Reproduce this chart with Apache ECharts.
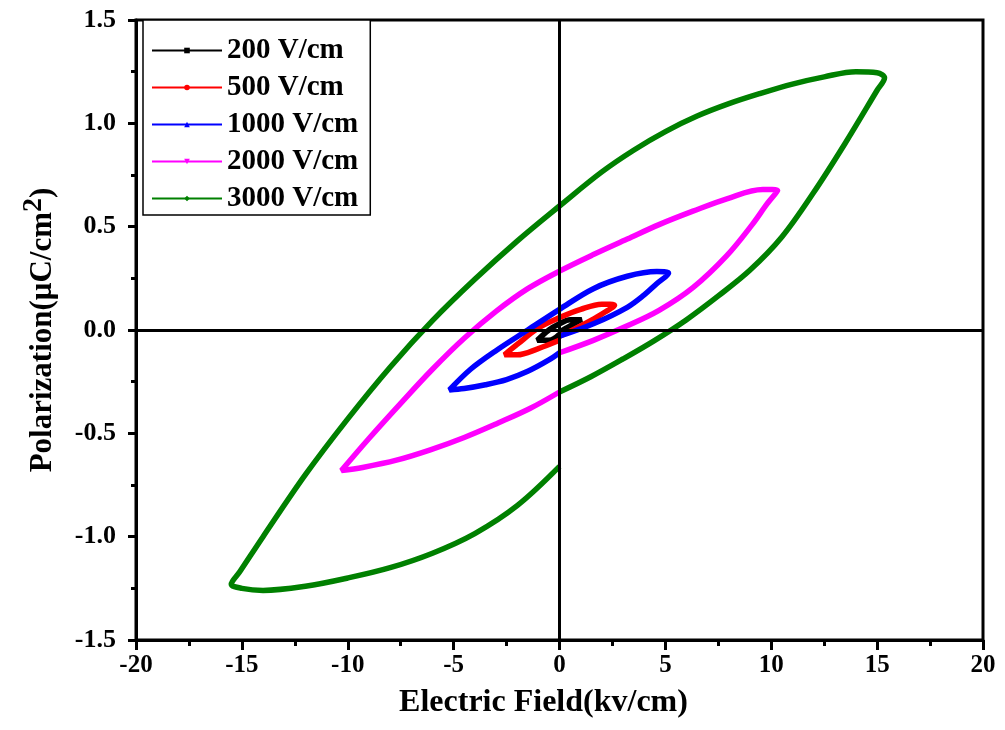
<!DOCTYPE html>
<html>
<head>
<meta charset="utf-8">
<script src="https://cdn.jsdelivr.net/npm/echarts@6/dist/echarts.min.js"></script>
<style>
html,body{margin:0;padding:0;background:#fff;}
#chart{width:1005px;height:730px;}
</style>
</head>
<body>
<div id="chart"></div>
<script>
// ---- data (E in kV/cm, P in uC/cm^2) ----
const seriesNames = ['200 V/cm', '500 V/cm', '1000 V/cm', '2000 V/cm', '3000 V/cm'];
const seriesColors = ['#000000', '#ff0000', '#0000ff', '#ff00ff', '#008000'];
const seriesSymbols = ['rect', 'circle', 'triangle', 'path://M0,0 L10,0 L5,9 Z', 'diamond'];

const loop200 = [[0,-0.01],[0.5,0.02],[1.05,0.05],[0.5,0.05],[0,0.03],[-0.5,0.0],[-1.05,-0.05],[-0.5,-0.05],[0,-0.02]];
const loop500 = [[0,-0.03],[1.0,0.02],[1.8,0.065],[2.6,0.12],[2.0,0.125],[1.0,0.1],[0,0.06],[-1.0,0.01],[-2.0,-0.07],[-2.6,-0.12],[-2.0,-0.12],[-1.0,-0.09],[0,-0.05]];
const loop1000 = [[0,-0.03],[1.6,0.03],[3.2,0.11],[4.0,0.17],[4.6,0.225],[5.15,0.275],[4.6,0.283],[3.2,0.26],[1.6,0.2],[0,0.1],[-1.5,0.0],[-3.0,-0.1],[-4.2,-0.19],[-5.2,-0.29],[-4.5,-0.283],[-3.5,-0.265],[-2.5,-0.24],[-1.5,-0.2],[-0.5,-0.145],[0,-0.11]];
const loop2000 = [[0,-0.11],[1.6,-0.05],[3.2,0.02],[4.7,0.095],[6.3,0.205],[7.9,0.36],[9.1,0.51],[9.8,0.61],[10.3,0.675],[9.6,0.68],[7.9,0.635],[6.3,0.575],[4.7,0.51],[3.2,0.44],[1.6,0.365],[0,0.285],[-1.5,0.2],[-3.0,0.09],[-4.5,-0.04],[-6.0,-0.19],[-7.5,-0.355],[-9.0,-0.525],[-10.3,-0.68],[-9.3,-0.665],[-7.7,-0.63],[-6.1,-0.58],[-4.5,-0.52],[-2.9,-0.45],[-1.4,-0.38],[0,-0.3]];
const loop3000 = [[0,-0.3],[1.5,-0.225],[3.0,-0.14],[4.5,-0.05],[6.0,0.05],[7.5,0.165],[9.0,0.29],[10.5,0.45],[12.0,0.665],[13.5,0.905],[15.0,1.16],[15.35,1.22],[15.0,1.245],[14.0,1.25],[12.5,1.225],[11.0,1.19],[9.5,1.145],[8.0,1.095],[6.5,1.035],[5.0,0.96],[3.5,0.87],[2.0,0.765],[0,0.6],[-2.0,0.43],[-4.0,0.245],[-6.0,0.045],[-8.0,-0.18],[-10.0,-0.43],[-12.0,-0.7],[-14.0,-1.0],[-15.1,-1.17],[-15.5,-1.23],[-15.0,-1.25],[-14.0,-1.26],[-12.0,-1.24],[-10.0,-1.2],[-8.0,-1.15],[-6.0,-1.08],[-4.0,-0.985],[-2.0,-0.85],[0,-0.66]];
const loops = [loop200, loop500, loop1000, loop2000, loop3000];

const xTicks = {min: -20, max: 20, step: 5};
const yTicks = {min: -1.5, max: 1.5, step: 0.5};

const FONT = '"Liberation Serif", "Times New Roman", serif';

const chart = echarts.init(document.getElementById('chart'), null, {renderer: 'canvas'});

const series = loops.map((d, i) => ({
  name: seriesNames[i],
  type: 'line',
  data: d,
  smooth: 0.35,
  showSymbol: false,
  symbol: seriesSymbols[i],
  symbolSize: 8,
  lineStyle: {color: seriesColors[i], width: 5.5},
  itemStyle: {color: seriesColors[i]},
  z: 3,
  animation: false
}));

series.unshift({
  name: 'zero',
  type: 'line',
  data: [],
  z: 1,
  markLine: {
    silent: true,
    symbol: 'none',
    label: {show: false},
    lineStyle: {color: '#000', width: 3, type: 'solid'},
    data: [{xAxis: 0}, {yAxis: 0}],
    animation: false
  }
});

chart.setOption({
  animation: false,
  backgroundColor: '#fff',
  grid: {left: 136, top: 20, width: 847, height: 620, show: true, borderColor: '#000', borderWidth: 3, backgroundColor: 'transparent'},
  legend: {
    data: seriesNames,
    orient: 'vertical',
    left: 143,
    top: 20,
    itemWidth: 70,
    itemHeight: 7,
    itemGap: 8,
    padding: [16, 12, 2, 8],
    borderColor: '#000',
    borderWidth: 1.5,
    backgroundColor: '#fff',
    lineStyle: {width: 2},
    textStyle: {fontFamily: FONT, fontWeight: 'bold', fontSize: 29, color: '#000'}
  },
  xAxis: {
    type: 'value',
    min: xTicks.min, max: xTicks.max, interval: xTicks.step,
    name: 'Electric Field(kv/cm)',
    nameLocation: 'middle',
    nameGap: 47,
    nameTextStyle: {fontFamily: FONT, fontWeight: 'bold', fontSize: 32, color: '#000', padding: [0, 32, 0, 0]},
    axisLine: {show: true, onZero: false, lineStyle: {color: '#000', width: 3}},
    axisTick: {show: true, inside: false, length: 10, lineStyle: {color: '#000', width: 3}},
    minorTick: {show: true, splitNumber: 2, length: 6, lineStyle: {color: '#000', width: 3}},
    splitLine: {show: false},
    axisLabel: {margin: 13, fontFamily: FONT, fontWeight: 'bold', fontSize: 25, color: '#000'}
  },
  yAxis: {
    type: 'value',
    min: yTicks.min, max: yTicks.max, interval: yTicks.step,
    name: 'Polarization(μC/cm{s|2})',
    nameLocation: 'middle',
    nameGap: 70,
    nameTextStyle: {fontFamily: FONT, fontWeight: 'bold', fontSize: 31, color: '#000',
      rich: {s: {fontFamily: FONT, fontWeight: 'bold', fontSize: 28, color: '#000', verticalAlign: 'bottom', padding: [0, 0, 18, 0]}}},
    axisLine: {show: true, onZero: false, lineStyle: {color: '#000', width: 3}},
    axisTick: {show: true, inside: false, length: 8, lineStyle: {color: '#000', width: 3}},
    minorTick: {show: true, splitNumber: 2, length: 5, lineStyle: {color: '#000', width: 3}},
    splitLine: {show: false},
    axisLabel: {margin: 20, fontFamily: FONT, fontWeight: 'bold', fontSize: 26, color: '#000',
      formatter: v => v.toFixed(1)}
  },
  series: series
});
</script>
</body>
</html>
